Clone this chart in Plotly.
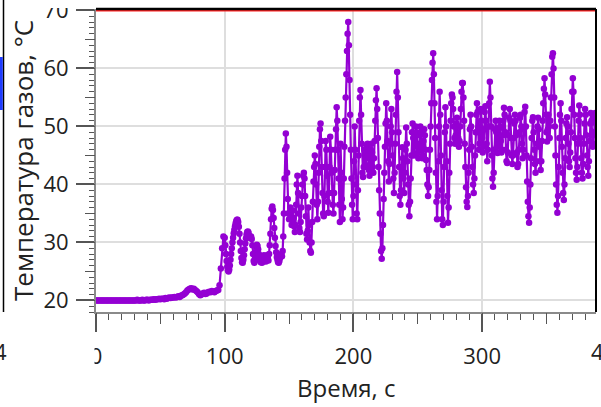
import numpy as np
import plotly.graph_objects as go

# ---------------- data ----------------
# 0 .. 99 s, one sample per second
temp_a = [
    20.0, 20.0, 20.0, 20.0, 20.0, 20.0, 20.0, 20.0, 20.0, 20.0,
    20.0, 20.0, 20.0, 20.0, 20.0, 20.0, 20.0, 20.0, 20.0, 20.0,
    20.0, 20.0, 20.0, 20.0, 20.0, 20.0, 20.0, 20.0, 20.0, 20.0,
    20.0, 20.0, 20.1, 20.0, 20.0, 20.0, 20.1, 20.0, 20.0, 20.1,
    20.1, 20.0, 20.1, 20.1, 20.1, 20.2, 20.1, 20.2, 20.2, 20.3,
    20.2, 20.3, 20.3, 20.2, 20.4, 20.3, 20.4, 20.5, 20.4, 20.5,
    20.5, 20.6, 20.5, 20.6, 20.7, 20.6, 20.8, 20.9, 21.0, 21.2,
    21.4, 21.7, 21.9, 22.0, 22.1, 21.9, 22.0, 21.8, 21.6, 21.4,
    21.1, 20.9, 21.0, 21.2, 21.3, 21.1, 21.2, 21.4, 21.5, 21.4,
    21.6, 21.5, 21.4, 21.6, 21.7, 21.8, 22.6, 25.5, 29.0, 31.0,
]
# 100 .. 388.5 s, one sample every 0.5 s
temp_b = [
    30.8, 29.5, 28.0, 26.8, 25.8, 25.2, 25.0, 25.3, 26.0, 27.0,
    28.0, 29.0, 30.0, 30.8, 31.6, 32.2, 32.8, 33.3, 33.7, 33.9,
    33.9, 33.5, 32.7, 31.5, 30.0, 28.5, 27.3, 26.6, 26.5, 27.0,
    27.8, 28.8, 29.8, 30.7, 31.4, 31.8, 31.9, 31.7, 31.2, 30.8,
    30.8, 31.0, 30.6, 29.5, 28.0, 26.8, 26.5, 27.2, 28.3, 29.2,
    29.6, 29.4, 28.8, 28.0, 27.3, 26.8, 26.6, 26.7, 26.5, 26.9,
    27.5, 27.8, 27.3, 26.8, 26.7, 27.2, 27.8, 27.3, 26.9, 28.0,
    29.5, 31.5, 34.0, 35.8, 36.2, 35.6, 34.2, 32.5, 30.8, 29.4,
    28.3, 27.5, 27.0, 26.6, 26.5, 26.8, 27.3, 27.8, 28.0, 27.6,
    28.5, 31.0, 35.0, 41.0, 46.0, 48.8, 46.5, 42.0, 37.5, 35.0,
    34.0, 35.2, 36.0, 34.5, 33.0, 33.8, 35.5, 34.2, 32.8, 31.8,
    33.0, 36.5, 40.0, 41.5, 38.5, 35.0, 32.5, 31.8, 33.5, 36.0,
    38.0, 40.0, 41.5, 42.0, 41.0, 38.0, 34.5, 31.5, 30.5, 32.0,
    36.0, 33.0, 30.0, 28.5, 28.2, 30.0, 33.5, 37.0, 40.5, 43.0,
    45.0, 43.5, 40.0, 36.5, 34.0, 37.0, 42.0, 46.5, 49.5, 50.5,
    47.5, 43.0, 38.5, 35.0, 34.5, 38.0, 43.0, 47.5, 46.0, 41.5,
    37.0, 35.1, 38.5, 43.0, 48.2, 46.0, 42.0, 38.5, 36.5, 35.0,
    38.5, 42.5, 46.0, 49.5, 53.3, 51.0, 46.0, 41.0, 36.5, 33.5,
    47.0, 42.0, 37.5, 34.0, 36.0, 41.0, 46.5, 51.0, 55.0, 59.0,
    63.0, 66.0, 68.0, 64.0, 58.0, 52.0, 46.0, 41.0, 36.5, 34.0,
    38.0, 44.0, 50.0, 46.0, 40.0, 35.0, 34.0, 39.0, 45.0, 51.0,
    55.0, 56.3, 52.0, 47.0, 42.0, 41.3, 43.0, 46.0, 45.0, 43.0,
    44.5, 46.5, 47.0, 45.0, 42.5, 41.5, 43.5, 46.0, 47.0, 45.5,
    43.0, 42.0, 44.5, 47.5, 51.0, 54.5, 56.6, 53.0, 48.0, 43.0,
    39.0, 35.0, 31.5, 28.5, 27.2, 29.0, 33.0, 37.5, 42.0, 46.5,
    50.5, 54.0, 51.0, 47.5, 44.0, 40.5, 43.5, 47.0, 50.0, 53.0,
    49.0, 45.0, 41.0, 38.5, 42.0, 47.0, 52.0, 56.0, 59.4, 55.0,
    49.0, 43.0, 38.0, 36.5, 39.0, 43.0, 46.4, 44.5, 41.0, 38.5,
    42.0, 46.0, 49.8, 47.0, 44.0, 40.0, 36.5, 34.5, 37.0, 41.0,
    45.0, 49.0, 50.5, 48.0, 45.0, 46.5, 48.5, 50.0, 49.0, 47.0,
    45.5, 44.5, 46.0, 48.5, 50.0, 49.0, 46.5, 44.5, 45.0, 47.5,
    49.5, 48.5, 46.0, 44.2, 42.5, 40.0, 38.0, 39.5, 42.5, 46.0,
    50.0, 54.0, 58.0, 61.0, 62.6, 59.0, 54.0, 48.0, 42.0, 37.0,
    34.0, 38.0, 44.0, 50.0, 56.0, 52.0, 45.0, 39.0, 34.0, 33.0,
    37.0, 43.0, 49.0, 53.3, 50.0, 44.0, 38.0, 33.4, 36.0, 42.0,
    47.0, 51.0, 54.0, 55.5, 55.0, 53.0, 50.0, 48.0, 47.0, 48.5,
    50.5, 51.5, 50.0, 48.0, 46.5, 47.5, 50.0, 53.0, 56.0, 57.5,
    57.5, 55.0, 51.0, 47.0, 43.0, 39.5, 37.0, 36.1, 38.0, 42.0,
    46.0, 49.5, 52.0, 50.0, 46.5, 43.0, 40.0, 38.5, 41.0, 45.0,
    49.0, 52.0, 54.0, 52.5, 49.0, 46.0, 47.0, 50.0, 53.0, 51.0,
    48.0, 45.5, 46.5, 49.5, 52.5, 53.5, 51.0, 47.0, 44.0, 46.0,
    50.0, 54.0, 57.7, 55.0, 50.0, 45.0, 41.0, 39.6, 42.0, 46.0,
    49.5, 51.0, 49.0, 46.5, 45.4, 47.0, 49.5, 51.0, 50.0, 47.5,
    45.5, 46.0, 48.5, 51.0, 53.2, 52.0, 49.0, 46.0, 44.0, 43.7,
    45.5, 48.5, 51.5, 53.0, 51.0, 48.0, 45.0, 43.5, 45.0, 48.0,
    50.5, 52.0, 51.0, 48.5, 45.5, 43.0, 43.5, 46.0, 49.0, 51.5,
    52.0, 50.0, 47.0, 44.5, 46.0, 49.5, 52.5, 53.4, 50.0, 45.0,
    40.5, 37.0, 34.5, 33.4, 36.0, 40.0, 44.5, 48.0, 51.0, 51.6,
    49.0, 46.0, 43.5, 42.0, 44.0, 47.0, 50.0, 51.5, 49.5, 46.5,
    44.0, 42.5, 44.0, 47.5, 51.0, 54.0, 56.5, 58.3, 55.5, 52.0,
    49.0, 47.4, 49.5, 52.0, 50.0, 48.0, 51.0, 55.0, 59.0, 62.0,
    62.6, 60.0, 55.0, 50.0, 45.0, 40.0, 36.5, 35.1, 38.0, 43.0,
    48.0, 52.0, 54.0, 51.0, 46.5, 42.0, 38.5, 37.3, 40.0, 44.5,
    48.0, 50.5, 51.6, 50.0, 47.0, 44.0, 43.0, 45.5, 49.0, 53.0,
    56.0, 58.3, 56.0, 52.0, 48.0, 44.5, 42.0, 40.8, 43.0, 47.0,
    51.0, 53.6, 52.0, 48.0, 44.5, 42.0, 41.0, 43.5, 47.0, 50.5,
    53.0, 52.0, 48.5, 45.0, 43.0, 41.5, 44.0, 47.5, 50.5, 52.3,
    51.0, 48.5, 46.5, 47.0, 49.0, 51.5, 52.3, 50.5,
]
time_a = np.arange(len(temp_a)) * 1.0
time_b = 100.0 + 0.5 * np.arange(len(temp_b))

limit_time = [-10, 400]
limit_temp = [70, 70]

x_tick_vals = [0, 100, 200, 300]
x_tick_text = ["0", "100", "200", "300"]
y_tick_vals = [20, 30, 40, 50, 60, 70]
y_tick_text = ["20", "30", "40", "50", "60", "70"]

x_title = "Время, с"
y_title = "Температура газов, °C"

# ---------------- figure ----------------
W, H = 601, 407
ML, MR, MT, MB = 96, 5, 9, 95
PW, PH = W - ML - MR, H - MT - MB


def px(x):
    return (x - ML) / PW


def py(y):
    return (H - MB - y) / PH


FONT = "Open Sans, Noto Sans, sans-serif"
PURPLE = "#9400D3"
XR = [0, 388.5]
YR = [18.0, 70.25]

fig = go.Figure()
fig.add_trace(go.Scatter(x=limit_time, y=limit_temp, mode="lines",
                         line=dict(color="#ff2020", width=2),
                         hoverinfo="skip", showlegend=False))
fig.add_trace(go.Scatter(x=np.concatenate([time_a, time_b]),
                         y=temp_a + temp_b, mode="lines+markers",
                         line=dict(color=PURPLE, width=2.2),
                         marker=dict(color=PURPLE, size=6.5),
                         showlegend=False))
# invisible trace for the overlay axes carrying the medium ticks
fig.add_trace(go.Scatter(x=[None], y=[None], xaxis="x2", yaxis="y2",
                         showlegend=False, hoverinfo="skip"))

axis_common = dict(
    ticks="outside", ticklen=18, tickwidth=1.5, tickcolor="#555555",
    showline=True, linecolor="#8a8a8a", linewidth=2,
    showgrid=True, gridcolor="#dedede", gridwidth=2,
    zeroline=False, ticklabeloverflow="allow", automargin=False,
    tickfont=dict(family=FONT, size=22, color="#222222"),
)
fig.update_layout(
    width=W, height=H, autosize=False,
    margin=dict(l=ML, r=MR, t=MT, b=MB, pad=0),
    paper_bgcolor="white", plot_bgcolor="white",
    font=dict(family=FONT, color="#222222"),
    xaxis=dict(range=XR, tickvals=x_tick_vals, ticktext=x_tick_text,
               ticklabelstandoff=6,
               minor=dict(tick0=0, dtick=10, ticks="outside", ticklen=6,
                          tickcolor="#555555", tickwidth=1, showgrid=False),
               **axis_common),
    yaxis=dict(range=YR, tickvals=y_tick_vals, ticktext=y_tick_text,
               ticklabelstandoff=3,
               minor=dict(tick0=0, dtick=1, ticks="outside", ticklen=5,
                          tickcolor="#555555", tickwidth=1, showgrid=False),
               **axis_common),
    xaxis2=dict(range=XR, overlaying="x", anchor="y2", side="bottom",
                tick0=0, dtick=50, ticks="outside", ticklen=11,
                tickcolor="#555555", tickwidth=1.2, showticklabels=False,
                showgrid=False, showline=False, zeroline=False,
                automargin=False),
    yaxis2=dict(range=YR, overlaying="y", anchor="x2", side="left",
                tick0=0, dtick=5, ticks="outside", ticklen=10,
                tickcolor="#555555", tickwidth=1.2, showticklabels=False,
                showgrid=False, showline=False, zeroline=False,
                automargin=False),
    shapes=[
        # plot frame top / right (black)
        dict(type="line", xref="paper", yref="paper", x0=0, x1=1, y0=1, y1=1,
             line=dict(color="black", width=2.5), layer="above"),
        dict(type="line", xref="paper", yref="paper", x0=1, x1=1, y0=0, y1=1,
             line=dict(color="black", width=2), layer="above"),
        # cropped neighbours / clipping seen in the screenshot
        dict(type="rect", xref="paper", yref="paper", x0=px(-20), x1=px(94.5),
             y0=py(372), y1=py(333), line=dict(width=0), fillcolor="white",
             layer="above"),
        dict(type="rect", xref="paper", yref="paper", x0=px(-5), x1=px(94),
             y0=py(8), y1=py(-10), line=dict(width=0), fillcolor="white",
             layer="above"),
        dict(type="line", xref="paper", yref="paper", x0=px(3.5), x1=px(3.5),
             y0=py(312), y1=py(-5), line=dict(color="black", width=1.5),
             layer="above"),
        dict(type="rect", xref="paper", yref="paper", x0=px(-2), x1=px(2.8),
             y0=py(110), y1=py(57), line=dict(width=0), fillcolor="#1f3cff",
             layer="above"),
    ],
    annotations=[
        dict(text=x_title, xref="paper", yref="paper", x=px(346), y=py(387),
             xanchor="center", yanchor="middle", showarrow=False,
             font=dict(family=FONT, size=24, color="#222222")),
        dict(text=y_title, xref="paper", yref="paper", x=px(23), y=py(161),
             xanchor="center", yanchor="middle", showarrow=False,
             textangle=-90, font=dict(family=FONT, size=26, color="#222222")),
        dict(text="400", xref="paper", yref="paper", x=px(610), y=py(351),
             xanchor="center", yanchor="middle", showarrow=False,
             font=dict(family=FONT, size=22, color="#222222")),
        dict(text="4", xref="paper", yref="paper", x=px(-8), y=py(351),
             xanchor="left", yanchor="middle", showarrow=False,
             font=dict(family=FONT, size=22, color="#222222")),
    ],
)

fig.write_html("out.html", config={"displayModeBar": False},
               post_script="document.body.style.margin='0';")
